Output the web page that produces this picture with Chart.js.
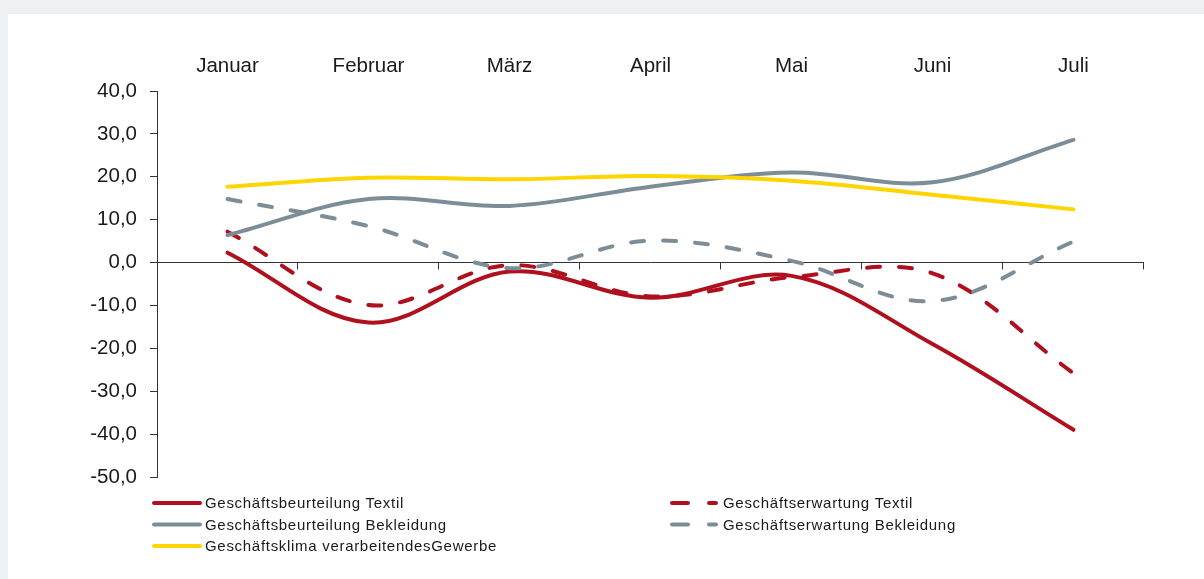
<!DOCTYPE html>
<html lang="de">
<head>
<meta charset="utf-8">
<script src="https://cdn.jsdelivr.net/npm/chart.js@4.4.1/dist/chart.umd.min.js"></script>
<style>
  html, body { margin: 0; padding: 0; background: #eef0f2; }
  #wrap { position: absolute; left: 8px; top: 14px; width: 1196px; height: 565px; background: #fff; }
</style>
</head>
<body>
<div id="wrap"><canvas id="chart"></canvas></div>
<script>
'use strict';

const months = ['Januar', 'Februar', 'März', 'April', 'Mai', 'Juni', 'Juli'];
const yTicks = [40, 30, 20, 10, 0, -10, -20, -30, -40, -50];

const beurteilungTextil = [2.3, -14.0, -2.1, -8.2, -3.1, -19.0, -39.0];
const erwartungTextil = [7.2, -9.9, -0.6, -7.9, -3.4, -2.5, -25.8];
const beurteilungBekleidung = [6.4, 14.8, 13.2, 17.7, 21.0, 18.7, 28.6];
const erwartungBekleidung = [14.8, 8.5, -1.3, 5.1, 0.4, -9.0, 4.9];
const klimaGewerbe = [17.7, 19.8, 19.4, 20.2, 19.1, 15.8, 12.4];

const RED = '#b0101e';
const GREY = '#7d8d97';
const YELLOW = '#ffd500';
const FONT = 'Arial, "Liberation Sans", sans-serif';
const DASH = [13, 19];

function line(label, data, color, dash, order) {
  return {
    label, data, order,
    borderColor: color,
    backgroundColor: color,
    borderWidth: 4,
    borderDash: dash,
    borderCapStyle: 'round',
    tension: 0.35,
    pointRadius: 0,
    fill: false,
  };
}

// zero line with category ticks (the x axis itself sits on top with the labels)
const zeroAxis = {
  id: 'zeroAxis',
  beforeDatasetsDraw(chart) {
    const { ctx, chartArea, scales: { x, y } } = chart;
    const y0 = Math.round(y.getPixelForValue(0)) - 0.5;
    ctx.save();
    ctx.strokeStyle = '#333';
    ctx.lineWidth = 1;
    ctx.beginPath();
    ctx.moveTo(chartArea.left, y0);
    ctx.lineTo(chartArea.right, y0);
    for (let i = 1; i <= months.length; i++) {
      const px = i < months.length
        ? (x.getPixelForValue(i - 1) + x.getPixelForValue(i)) / 2
        : chartArea.right;
      const xx = Math.round(px) - 0.5;
      ctx.moveTo(xx, y0);
      ctx.lineTo(xx, y0 + 7);
    }
    ctx.stroke();
    ctx.restore();
  }
};

// two-column legend like the original
const gridLegend = {
  id: 'gridLegend',
  afterDraw(chart) {
    const { ctx, chartArea } = chart;
    const cols = [chartArea.left - 5, chartArea.left + 513];
    const rows = [chartArea.bottom + 26, chartArea.bottom + 47.5, chartArea.bottom + 69];
    ctx.save();
    ctx.font = '15px ' + FONT;
    ctx.letterSpacing = '0.7px';
    ctx.textBaseline = 'middle';
    ctx.fillStyle = '#1a1a1a';
    chart.data.datasets.forEach((ds, i) => {
      const cx = cols[i % 2];
      const cy = rows[Math.floor(i / 2)];
      ctx.strokeStyle = ds.borderColor;
      ctx.lineWidth = 4;
      ctx.lineCap = 'round';
      ctx.beginPath();
      if (ds.borderDash.length) {
        ctx.setLineDash([16, 21]);
        ctx.moveTo(cx + 2, cy);
        ctx.lineTo(cx + 46, cy);
      } else {
        ctx.setLineDash([]);
        ctx.moveTo(cx + 2, cy);
        ctx.lineTo(cx + 48, cy);
      }
      ctx.stroke();
      ctx.fillText(ds.label, cx + 53, cy + 1);
    });
    ctx.restore();
  }
};

new Chart(document.getElementById('chart'), {
  type: 'line',
  data: {
    labels: months,
    datasets: [
      line('Geschäftsbeurteilung Textil', beurteilungTextil, RED, [], 5),
      line('Geschäftserwartung Textil', erwartungTextil, RED, DASH, 4),
      line('Geschäftsbeurteilung Bekleidung', beurteilungBekleidung, GREY, [], 3),
      line('Geschäftserwartung Bekleidung', erwartungBekleidung, GREY, DASH, 2),
      line('Geschäftsklima verarbeitendesGewerbe', klimaGewerbe, YELLOW, [], 1),
    ],
  },
  options: {
    responsive: true,
    maintainAspectRatio: false,
    animation: false,
    layout: { padding: { left: 0, top: 0, right: 60, bottom: 102 } },
    plugins: { legend: { display: false }, tooltip: { enabled: false } },
    scales: {
      x: {
        position: 'top',
        offset: true,
        grid: { display: false },
        border: { display: false },
        ticks: { color: '#1a1a1a', font: { family: FONT, size: 20.5 }, padding: 4, maxRotation: 0 },
        afterFit: s => { s.height = 77; },
      },
      y: {
        min: -50,
        max: 40,
        afterBuildTicks: s => { s.ticks = yTicks.map(v => ({ value: v })); },
        grid: { drawOnChartArea: false, drawTicks: true, tickLength: 7, color: '#333' },
        border: { display: true, color: '#333', width: 1 },
        ticks: {
          color: '#1a1a1a',
          font: { family: FONT, size: 20.5 },
          padding: 13,
          callback: v => v.toFixed(1).replace('.', ','),
        },
        afterFit: s => { s.width = 149; },
      },
    },
  },
  plugins: [zeroAxis, gridLegend],
});
</script>
</body>
</html>
